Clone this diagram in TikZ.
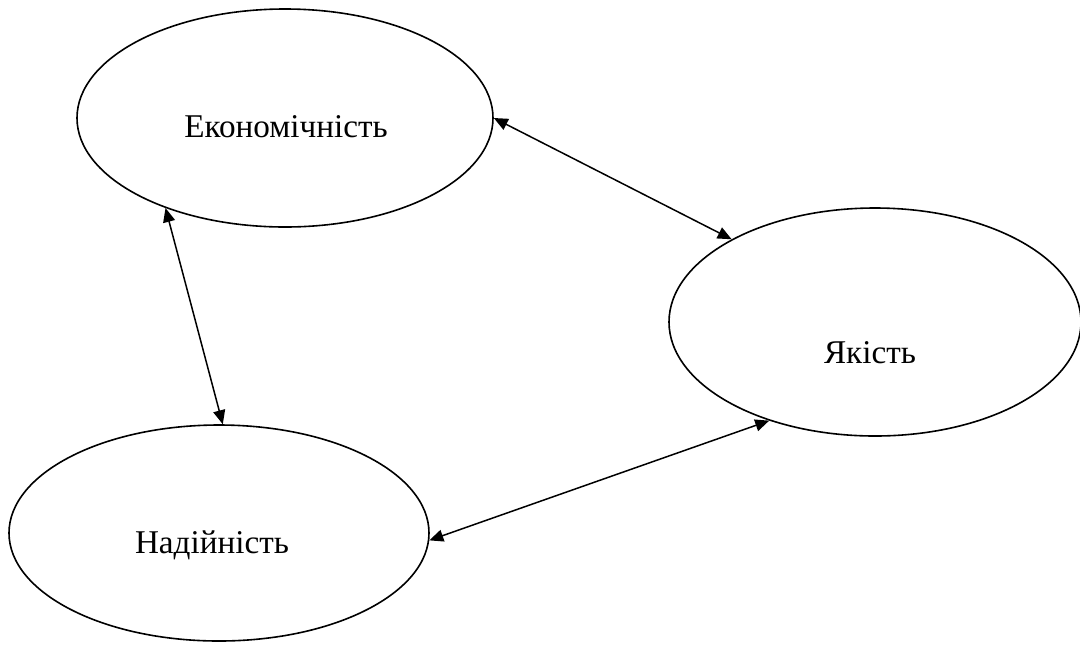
\documentclass[tikz,border=0pt]{standalone}
\usepackage{fontspec}
\setmainfont{Liberation Serif}
\usetikzlibrary{shapes.geometric,arrows.meta}
\tikzset{
	oval/.style={draw,ellipse,line width=0.8pt,inner sep=0pt},
	link/.style={{Triangle[length=7pt,width=6pt]}-{Triangle[length=7pt,width=6pt]},line width=0.75pt},
	word/.style={font=\fontsize{16.6}{19}\selectfont}
}
\begin{document}
\begin{tikzpicture}[x=0.5pt,y=-0.5pt]
	\useasboundingbox (0,0) rectangle (1080,644);
	\node[oval,minimum width=208pt,minimum height=109pt] (econ) at (285,118) {};
	\node[oval,minimum width=206pt,minimum height=114pt] (yak) at (875,322) {};
	\node[oval,minimum width=210pt,minimum height=108pt] (nad) at (219,533) {};
	\node[word] (econtxt) at (286,127) {Економічність};
	\node[word] (yaktxt) at (870,353) {Якість};
	\node[word] (nadtxt) at (212,545) {Надійність};
	\draw[link] (econ.0) -- (yak.150);
	\draw[link] (econ.217) -- (nad.88);
	\draw[link] (nad.358) -- (yak.223);
\end{tikzpicture}
\end{document}
